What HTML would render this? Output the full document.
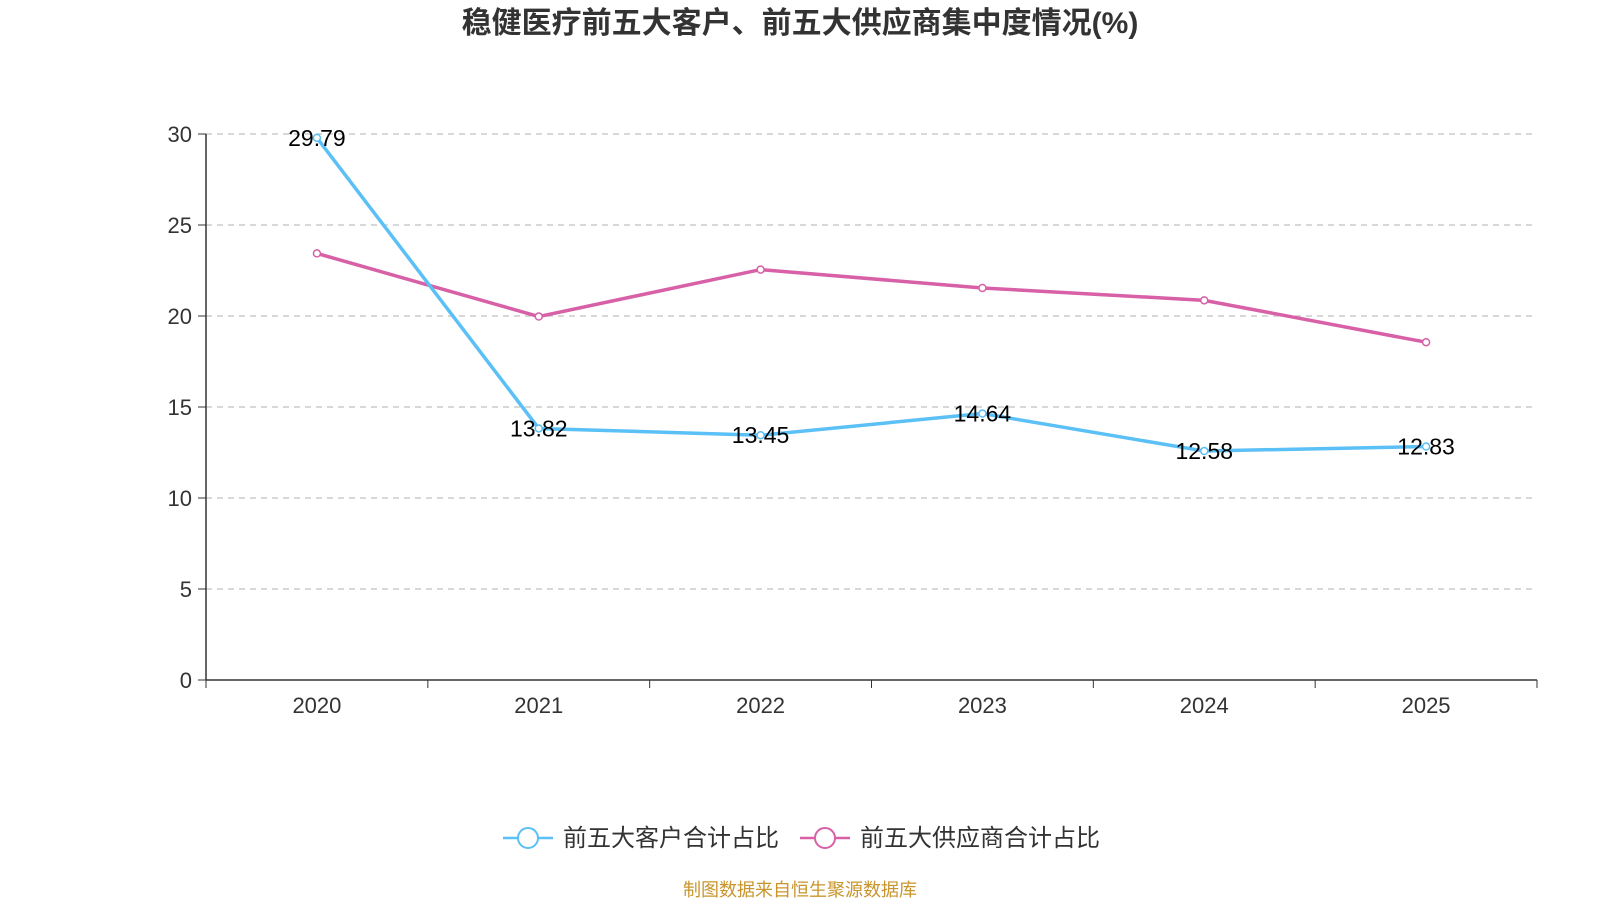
<!DOCTYPE html>
<html><head><meta charset="utf-8"><style>
body{margin:0;background:#fff;width:1600px;height:900px;overflow:hidden;font-family:"Liberation Sans","Noto Sans CJK SC",sans-serif}
</style></head><body>
<svg id="chart" width="1600" height="900" xmlns="http://www.w3.org/2000/svg" font-family="Liberation Sans, Noto Sans CJK SC, sans-serif">
<text x="800" y="33" text-anchor="middle" font-size="30" font-weight="bold" fill="#333">稳健医疗前五大客户、前五大供应商集中度情况(%)</text>
<g id="grid"></g><g id="axes"></g><g id="series"></g>
<g>
<line x1="503" y1="838" x2="553" y2="838" stroke="#5bc0f5" stroke-width="2.5"/>
<circle cx="528" cy="838" r="10" fill="#fff" stroke="#5bc0f5" stroke-width="2"/>
<text x="563" y="846" font-size="24" fill="#333">前五大客户合计占比</text>
<line x1="800" y1="838" x2="850" y2="838" stroke="#d760a6" stroke-width="2.5"/>
<circle cx="825" cy="838" r="10" fill="#fff" stroke="#d760a6" stroke-width="2"/>
<text x="860" y="846" font-size="24" fill="#333">前五大供应商合计占比</text>
</g>
<text x="800" y="896" text-anchor="middle" font-size="18" fill="#c8952b">制图数据来自恒生聚源数据库</text>
</svg>
<script>
const categories=["2020","2021","2022","2023","2024","2025"];
const customerValues=[29.79,13.82,13.45,14.64,12.58,12.83];
const supplierValues=[23.44,19.97,22.55,21.54,20.86,18.56];
const yTicks=[0,5,10,15,20,25,30];
const NS="http://www.w3.org/2000/svg";
const X0=206,X1=1537,Y0=680,Y1=134;
const bw=(X1-X0)/categories.length;
const xs=i=>X0+bw*(i+0.5);
const ys=v=>Y0-(v/30)*(Y0-Y1);
function mk(t,a,p){const e=document.createElementNS(NS,t);for(const k in a)e.setAttribute(k,a[k]);p.appendChild(e);return e;}
const grid=document.getElementById('grid'),axes=document.getElementById('axes'),ser=document.getElementById('series');
yTicks.forEach(v=>{
 if(v>0){const g=mk('line',{x1:X0,x2:X1,y1:ys(v),y2:ys(v),stroke:'#ccc','stroke-dasharray':'6,5','stroke-width':1.5},grid);
 
 }
 mk('line',{x1:X0-8,x2:X0,y1:ys(v),y2:ys(v),stroke:'#333'},axes);
 const t=mk('text',{x:X0-14,y:ys(v)+8,'text-anchor':'end','font-size':22,fill:'#333'},axes);t.textContent=v;
 
 
});
mk('line',{x1:X0,x2:X0,y1:Y1,y2:Y0,stroke:'#333','stroke-width':1.5},axes);
mk('line',{x1:X0,x2:X1,y1:Y0,y2:Y0,stroke:'#333','stroke-width':1.5},axes);
for(let i=0;i<=categories.length;i++)mk('line',{x1:X0+bw*i,x2:X0+bw*i,y1:Y0,y2:Y0+8,stroke:'#333'},axes);
categories.forEach((c,i)=>{const t=mk('text',{x:xs(i),y:Y0+33,'text-anchor':'middle','font-size':22,fill:'#333'},axes);t.textContent=c;
 
 });
function line(vals,col,name,labels){
 const p=mk('polyline',{points:vals.map((v,i)=>xs(i)+','+ys(v)).join(' '),fill:'none',stroke:col,'stroke-width':3.5},ser);
 
 
 vals.forEach((v,i)=>{const c=mk('circle',{cx:xs(i),cy:ys(v),r:3.5,fill:'#fff',stroke:col,'stroke-width':1.5},ser);
  
  
  if(labels){const t=mk('text',{x:xs(i),y:ys(v)+8,'text-anchor':'middle','font-size':23,fill:'#000'},ser);t.textContent=v.toFixed(2);
  
  }
 });
}
line(supplierValues,'#d760a6','supplier',false);
line(customerValues,'#5bc0f5','customer',true);
</script>
</body></html>
